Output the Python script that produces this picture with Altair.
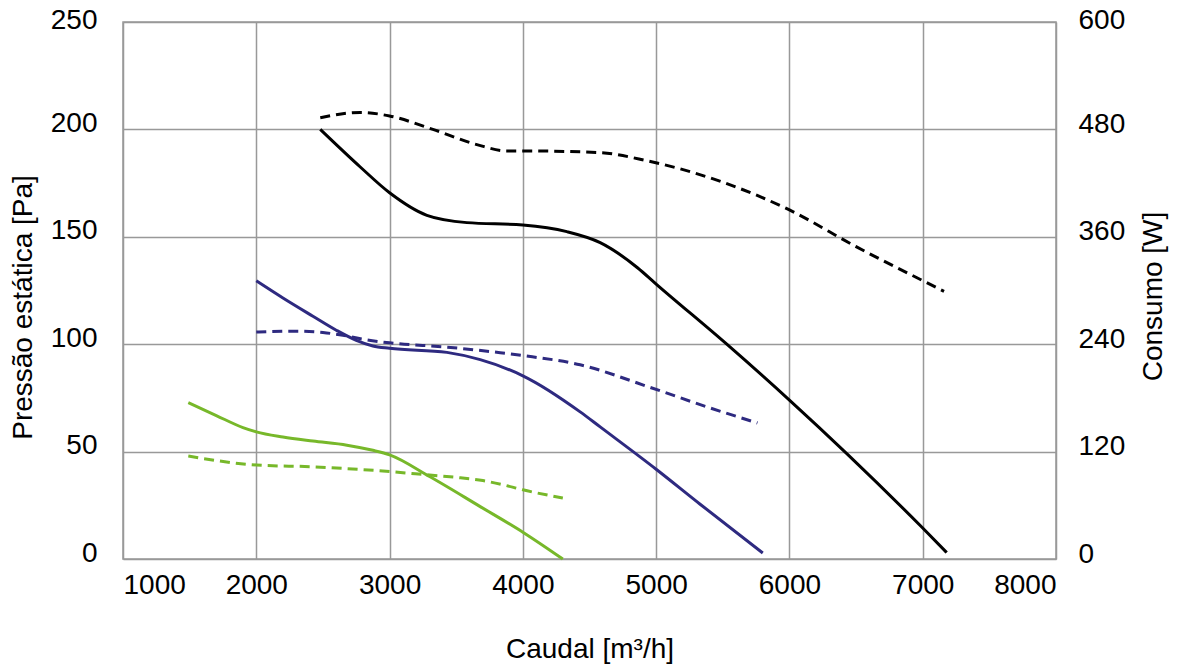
import altair as alt
import pandas as pd

# Caudal [m3/h] and static pressure [Pa] for each fan curve (solid lines, left axis)
green_p_x = [1490, 1700, 1900, 2000, 2200, 2425, 2680, 2875, 3000, 3300, 3680, 4000, 4300]
green_p_y = [72.8, 66.8, 61.2, 59.2, 56.8, 54.9, 53.0, 50.6, 48.5, 38.4, 24.4, 12.5, 0.0]

navy_p_x = [2000, 2200, 2425, 2600, 2750, 2875, 3000, 3430, 3680, 4000, 4430, 4580, 5000, 5330, 5800]
navy_p_y = [129.5, 121.5, 113.0, 106.5, 101.8, 99.2, 98.1, 96.2, 92.8, 85.3, 68.5, 61.5, 41.8, 25.5, 2.8]

black_p_x = [2480, 2780, 3000, 3280, 3580, 4000, 4330, 4580, 4860, 5000, 5530, 6000, 7000, 7180]
black_p_y = [200.0, 182.5, 170.5, 160.0, 156.6, 155.5, 152.4, 147.3, 135.6, 128.0, 100.0, 74.0, 14.4, 3.0]

# Caudal [m3/h] and power consumption [W] (dashed lines, right axis)
green_w_x = [1490, 2000, 2425, 3000, 3300, 3500, 3700, 3850, 4000, 4300]
green_w_y = [115, 105, 103, 97.7, 93.8, 91.2, 87.6, 83.0, 77.3, 68.2]

navy_w_x = [2000, 2300, 2500, 2650, 2800, 3000, 3430, 3830, 4000, 4430, 4950, 5380, 5760]
navy_w_y = [253.5, 254.5, 253, 250, 245.5, 241.5, 236.7, 230.5, 227.3, 217, 192, 170, 152]

black_w_x = [2480, 2780, 3000, 3325, 3655, 3880, 4000, 4580, 4930, 5500, 6000, 6500, 7000, 7160]
black_w_y = [493, 499, 495, 480, 463, 456, 456, 454, 445, 421, 390, 349, 311, 299]

series_names = ["verde", "azul", "preto"]
series_colors = ["#77B82A", "#2E2A80", "#000000"]

left_ticks = [0, 50, 100, 150, 200, 250]
right_ticks = [0, 120, 240, 360, 480, 600]
x_ticks = [1000, 2000, 3000, 4000, 5000, 6000, 7000, 8000]


def frame(name, xs, ys, col):
    return pd.DataFrame({"caudal": xs, col: ys, "serie": name})


pres = pd.concat([
    frame("verde", green_p_x, green_p_y, "pressao"),
    frame("azul", navy_p_x, navy_p_y, "pressao"),
    frame("preto", black_p_x, black_p_y, "pressao"),
])
cons = pd.concat([
    frame("verde", green_w_x, green_w_y, "consumo"),
    frame("azul", navy_w_x, navy_w_y, "consumo"),
    frame("preto", black_w_x, black_w_y, "consumo"),
])

FONT = "Liberation Sans"
FS = 28

x_enc = alt.X(
    "caudal:Q",
    scale=alt.Scale(domain=[1000, 8000], nice=False),
    axis=alt.Axis(
        values=x_ticks, title="Caudal [m³/h]", grid=True, gridColor="#999999",
        gridWidth=1.5, domain=False, ticks=False, labelPadding=12,
        titlePadding=36, format="d",
    ),
)
color_enc = alt.Color(
    "serie:N",
    scale=alt.Scale(domain=series_names, range=series_colors),
    legend=None,
)

left = alt.Chart(pres).mark_line(interpolate="monotone", strokeWidth=3).encode(
    x=x_enc,
    y=alt.Y(
        "pressao:Q",
        scale=alt.Scale(domain=[0, 250], nice=False),
        axis=alt.Axis(
            values=left_ticks, title="Pressão estática [Pa]", orient="left",
            grid=True, gridColor="#999999", gridWidth=1.5, domain=False,
            ticks=False, labelPadding=26,
            labelOffset={"expr": "datum.value >= 250 ? -2 : -6"},
            titlePadding=13, titleY=285,
        ),
    ),
    color=color_enc,
    detail="serie:N",
)

right = alt.Chart(cons).mark_line(
    interpolate="monotone", strokeWidth=3, strokeDash=[10, 6]
).encode(
    x=x_enc,
    y=alt.Y(
        "consumo:Q",
        scale=alt.Scale(domain=[0, 600], nice=False),
        axis=alt.Axis(
            values=right_ticks, title="Consumo [W]", orient="right",
            grid=False, domain=False, ticks=False, labelPadding=22,
            labelOffset={"expr": "datum.value >= 600 ? -2 : -5"},
            titlePadding=43, titleAngle=270, titleY=274,
        ),
    ),
    color=color_enc,
    detail="serie:N",
)

chart = (
    alt.layer(left, right)
    .resolve_scale(y="independent")
    .properties(
        width=933,
        height=537,
        autosize=alt.AutoSizeParams(type="none"),
        padding={"left": 115, "top": 14, "right": 113, "bottom": 108},
        background="white",
    )
    .configure_view(stroke="#999999", strokeWidth=1.5)
    .configure_axis(
        labelFont=FONT, titleFont=FONT, labelFontSize=FS, titleFontSize=FS,
        labelColor="#000000", titleColor="#000000", titleFontWeight="normal",
    )
)

chart.save("out.html", embed_options={"renderer": "svg", "actions": False})
